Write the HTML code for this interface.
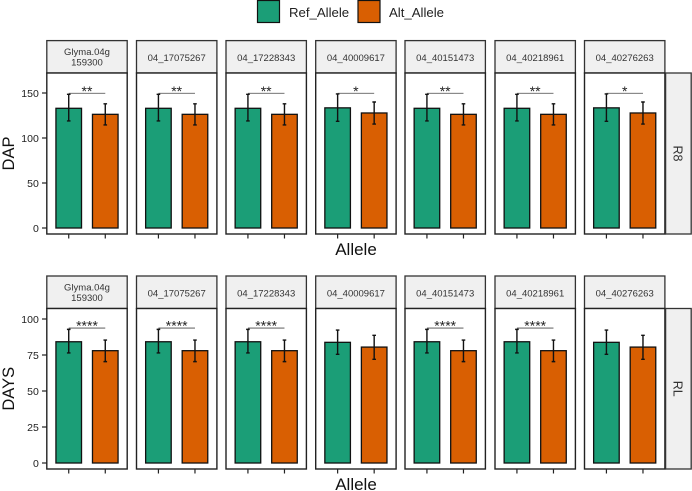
<!DOCTYPE html>
<html lang="en">
<head>
<meta charset="utf-8">
<title>Allele effects on DAP and DAYS</title>
<style>
html,body{margin:0;padding:0;background:#fff;}
svg{display:block;font-family:"Liberation Sans",Arial,sans-serif;}
</style>
</head>
<body>
<svg id="chart" xmlns="http://www.w3.org/2000/svg" width="692" height="491" viewBox="0 0 692 491">
  <g>
    <rect x="257.5" y="0.5" width="22" height="22" fill="#1B9E77" stroke="#111" stroke-width="1.2"/>
    <text x="289" y="17" font-size="13.2" fill="#222">Ref_Allele</text>
    <rect x="358" y="0.5" width="22" height="22" fill="#D95F02" stroke="#111" stroke-width="1.2"/>
    <text x="389" y="17" font-size="13.2" fill="#222">Alt_Allele</text>
  </g>
</svg>
<script>
// Facet categories (one per column)
const markers = [["Glyma.04g","159300"],["04_17075267"],["04_17228343"],["04_40009617"],["04_40151473"],["04_40218961"],["04_40276263"]];

// DAP (row R8)
const dapRefMean = [133,133,133,133.5,133,133,133.5];
const dapAltMean = [126.3,126.3,126.3,127.8,126.3,126.3,127.8];
const dapRefUpper = [148.5,148.5,148.5,149,148.5,148.5,149];
const dapRefLower = [119,119,119,118.5,119,119,118.5];
const dapAltUpper = [138,138,138,140,138,138,140];
const dapAltLower = [114.5,114.5,114.5,115.5,114.5,114.5,115.5];
const dapSig = ["**","**","**","*","**","**","*"];
const dapTicks = [0,50,100,150];

// DAYS (row RL)
const daysRefMean = [84.2,84.2,84.2,83.8,84.2,84.2,83.8];
const daysAltMean = [78,78,78,80.5,78,78,80.5];
const daysRefUpper = [92.8,92.8,92.8,92.3,92.8,92.8,92.3];
const daysRefLower = [76.4,76.4,76.4,75.5,76.4,76.4,75.5];
const daysAltUpper = [85.4,85.4,85.4,88.7,85.4,85.4,88.7];
const daysAltLower = [70.4,70.4,70.4,72,70.4,70.4,72];
const daysSig = ["****","****","****","","****","****",""];
const daysTicks = [0,25,50,75,100];

const dapBracket = 149.7;
const daysBracket = 93.7;

const svg = document.getElementById('chart');
const NS = 'http://www.w3.org/2000/svg';
function mk(tag, attrs, parent, txt){
  const e = document.createElementNS(NS, tag);
  for (const k in attrs) e.setAttribute(k, attrs[k]);
  if (txt !== undefined) e.textContent = txt;
  parent.appendChild(e);
  return e;
}
const panelLeft = [46.8,136.5,226,315.7,405,495,584.5];
const panelW = 80.4;
const unit = panelW / 2.2;
function xPos(col, idx){ return panelLeft[col] + (0.6 + idx) * unit; }
const barW = 0.7 * unit;

function drawBar(g, col, idx, mean, up, lo, y, color, label){
  const cx = xPos(col, idx);
  const bar = mk('rect',{x:cx-barW/2,y:y(mean),width:barW,height:y(0)-y(mean),fill:color,stroke:'#111','stroke-width':1.3},g);
  
  
  const eb = mk('path',{d:`M${cx-1.8} ${y(up)}H${cx+1.8}M${cx} ${y(up)}V${y(lo)}M${cx-1.8} ${y(lo)}H${cx+1.8}`,fill:'none',stroke:'#111','stroke-width':1.4},g);
  
  
}

function drawRow(cfg){
  const y = v => cfg.zeroY - v * cfg.scale;
  const rowG = mk('g',{},svg);
  
  
  markers.forEach((m, c) => {
    const L = panelLeft[c];
    const g = mk('g',{},rowG);
    
    
    const strip = mk('rect',{x:L,y:cfg.stripTop,width:panelW,height:cfg.panelTop-cfg.stripTop,fill:'#F0F0F0',stroke:'#333','stroke-width':1.3},g);
    
    
    const cxs = L + panelW/2;
    m.forEach((line, i) => {
      const base = m.length === 1 ? cfg.panelTop - 12 : cfg.panelTop - 18 + i * 10.7;
      const t = mk('text',{x:cxs,y:base,'font-size':9.5,'text-anchor':'middle',fill:'#333'},g,line);
      
      
    });
    const panel = mk('rect',{x:L,y:cfg.panelTop,width:panelW,height:cfg.panelBottom-cfg.panelTop,fill:'#fff'},g);
    
    
    drawBar(g, c, 0, cfg.refMean[c], cfg.refUpper[c], cfg.refLower[c], y, '#1B9E77', 'ref-allele');
    drawBar(g, c, 1, cfg.altMean[c], cfg.altUpper[c], cfg.altLower[c], y, '#D95F02', 'alt-allele');
    if (cfg.sig[c]) {
      const x0 = xPos(c,0), x1 = xPos(c,1);
      const br = mk('line',{x1:x0,x2:x1,y1:y(cfg.bracket),y2:y(cfg.bracket),stroke:'#444','stroke-width':0.8},g);
      
      
      const st = mk('text',{x:(x0+x1)/2,y:y(cfg.bracket)+2.5,'font-size':14,'text-anchor':'middle',fill:'#222'},g,cfg.sig[c]);
      
      
    }
    const border = mk('rect',{x:L,y:cfg.panelTop,width:panelW,height:cfg.panelBottom-cfg.panelTop,fill:'none',stroke:'#222','stroke-width':1.4},g);
    
    
    [0,1].forEach(i => {
      const tk = mk('line',{x1:xPos(c,i),x2:xPos(c,i),y1:cfg.panelBottom,y2:cfg.panelBottom+4.5,stroke:'#222','stroke-width':1.2},g);
      
      
    });
  });
  cfg.ticks.forEach(v => {
    const tk = mk('line',{x1:42,x2:46.8,y1:y(v),y2:y(v),stroke:'#222','stroke-width':1.2},rowG);
    
    
    const lb = mk('text',{x:38.8,y:y(v)+3.8,'font-size':10.5,'text-anchor':'end',fill:'#222'},rowG,String(v));
    
    
  });
  const side = mk('rect',{x:665.6,y:cfg.panelTop,width:25.6,height:cfg.panelBottom-cfg.panelTop,fill:'#F0F0F0',stroke:'#333','stroke-width':1.3},rowG);
  
  
  const midY = (cfg.panelTop + cfg.panelBottom) / 2;
  const sl = mk('text',{x:678,y:midY,'font-size':12.5,'text-anchor':'middle',fill:'#333',transform:`rotate(90 678 ${midY}) translate(0 4.5)`},rowG,cfg.key);
  
  
  const yt = mk('text',{x:14,y:midY,'font-size':16.5,'text-anchor':'middle',fill:'#111',transform:`rotate(-90 14 ${midY})`},rowG,cfg.title);
  
  
  const xt = mk('text',{x:356,y:cfg.panelBottom+21,'font-size':17,'text-anchor':'middle',fill:'#111'},rowG,'Allele');
  
  
}

drawRow({key:'R8',title:'DAP',stripTop:40.6,panelTop:73,panelBottom:234,zeroY:228,scale:0.9,
  refMean:dapRefMean,altMean:dapAltMean,refUpper:dapRefUpper,refLower:dapRefLower,altUpper:dapAltUpper,altLower:dapAltLower,sig:dapSig,ticks:dapTicks,bracket:dapBracket});
drawRow({key:'RL',title:'DAYS',stripTop:276,panelTop:308.5,panelBottom:469,zeroY:463,scale:1.44,
  refMean:daysRefMean,altMean:daysAltMean,refUpper:daysRefUpper,refLower:daysRefLower,altUpper:daysAltUpper,altLower:daysAltLower,sig:daysSig,ticks:daysTicks,bracket:daysBracket});
</script>
</body>
</html>
